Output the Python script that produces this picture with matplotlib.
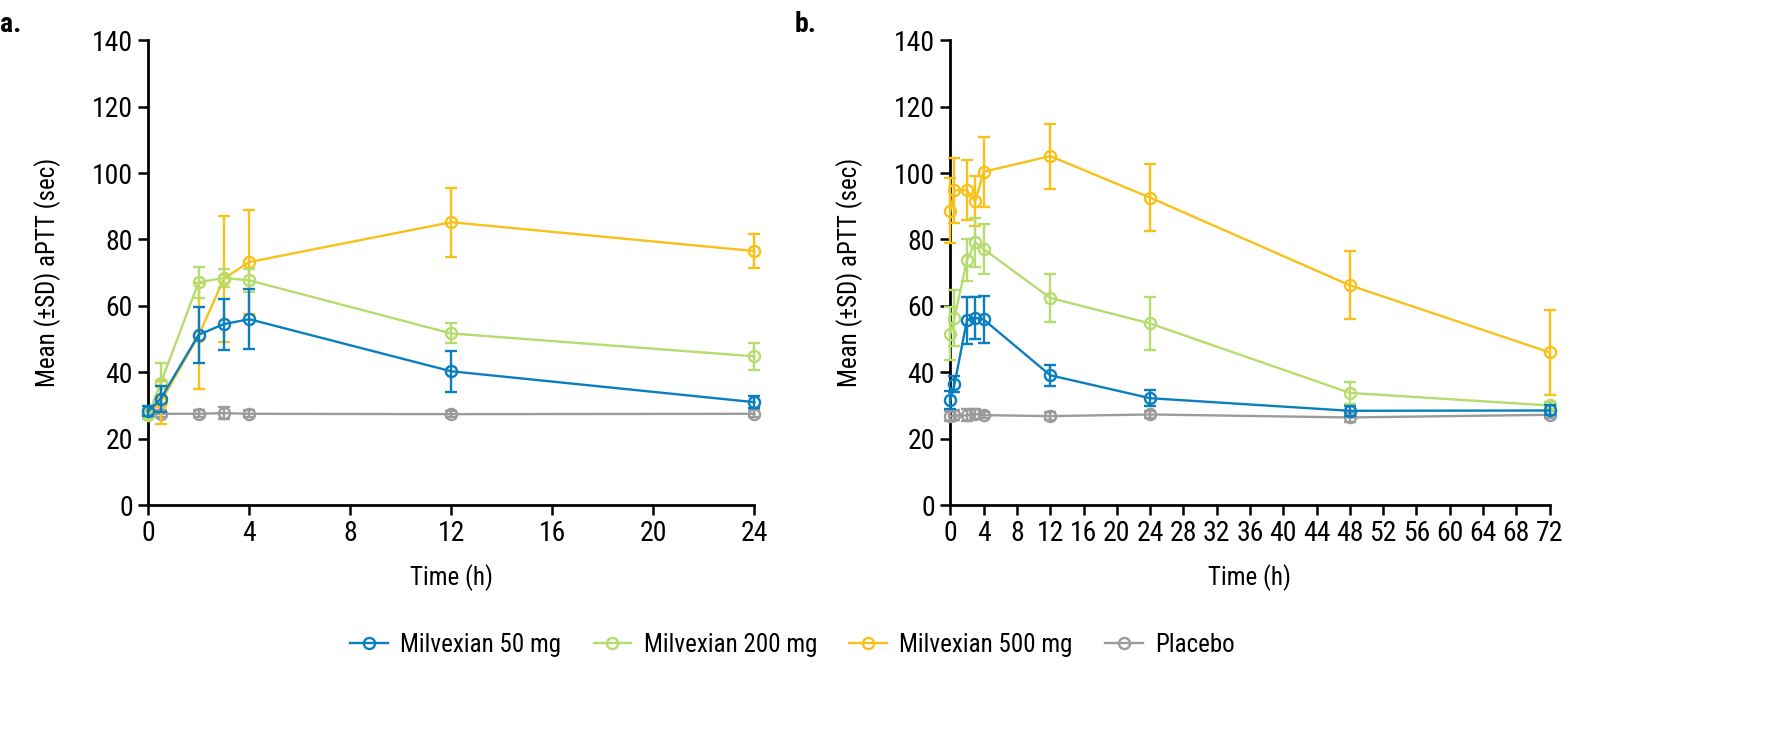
import numpy as np
import matplotlib.pyplot as plt

plt.rcParams['font.family'] = ['Roboto Condensed', 'Archivo Narrow', 'PT Sans Narrow',
                               'Liberation Sans Narrow', 'DejaVu Sans']

# panel a: single dose (0-24 h)
times_a = [0, 0.5, 2, 3, 4, 12, 24]
mean_a_50 = [28.2, 32.0, 51.3, 54.5, 56.0, 40.3, 31.0]
sd_a_50 = [1.5, 4.0, 8.5, 7.7, 9.0, 6.1, 1.8]
mean_a_200 = [27.0, 36.7, 67.1, 68.4, 67.7, 51.7, 44.8]
sd_a_200 = [1.0, 6.0, 4.7, 2.8, 3.5, 3.0, 4.0]
mean_a_500 = [27.5, 31.0, 51.0, 68.2, 73.2, 85.2, 76.5]
sd_a_500 = [1.0, 6.5, 16.0, 19.0, 15.7, 10.4, 5.0]
mean_a_pbo = [27.5, 27.5, 27.5, 27.7, 27.5, 27.4, 27.5]
sd_a_pbo = [1.0, 1.0, 1.0, 1.8, 1.0, 1.0, 1.0]

# panel b: 0-72 h
times_b = [0, 0.5, 2, 3, 4, 12, 24, 48, 72]
mean_b_50 = [31.7, 36.4, 55.7, 56.4, 55.9, 39.1, 32.2, 28.4, 28.5]
sd_b_50 = [2.8, 2.4, 7.1, 6.4, 7.0, 3.2, 2.5, 1.5, 1.5]
mean_b_200 = [51.6, 56.4, 73.8, 79.1, 77.1, 62.4, 54.7, 33.8, 30.0]
sd_b_200 = [8.0, 8.4, 6.2, 7.5, 7.6, 7.3, 8.1, 3.4, 1.0]
mean_b_500 = [88.6, 94.8, 94.8, 91.5, 100.4, 105.1, 92.6, 66.2, 46.0]
sd_b_500 = [9.8, 9.7, 9.0, 7.5, 10.5, 9.8, 10.0, 10.3, 12.8]
mean_b_pbo = [26.7, 27.0, 27.0, 27.5, 27.1, 26.8, 27.3, 26.4, 27.2]
sd_b_pbo = [1.5, 1.5, 1.8, 1.5, 1.0, 1.3, 1.0, 1.3, 1.0]

labels = ['Milvexian 50 mg', 'Milvexian 200 mg', 'Milvexian 500 mg', 'Placebo']
colors = ['#0a7fc0', '#b5dc6e', '#f8c11a', '#9b9b9b']

fig = plt.figure(figsize=(17.73, 7.45), dpi=100)
ax_a = fig.add_axes([0.0835, 0.322, 0.342, 0.624])
ax_b = fig.add_axes([0.536, 0.322, 0.338, 0.624])

panels = [
    (ax_a, times_a, [mean_a_50, mean_a_200, mean_a_500, mean_a_pbo],
     [sd_a_50, sd_a_200, sd_a_500, sd_a_pbo], 24, 4),
    (ax_b, times_b, [mean_b_50, mean_b_200, mean_b_500, mean_b_pbo],
     [sd_b_50, sd_b_200, sd_b_500, sd_b_pbo], 72, 4),
]

for ax, t, means, sds, xmax, step in panels:
    # placebo first, then 500, 200, 50 on top
    for i in [3, 2, 1, 0]:
        ax.errorbar(t, means[i], yerr=sds[i], color=colors[i], lw=1.7,
                    marker='o', ms=8, mfc='none', mew=1.7,
                    capsize=4, capthick=1.7, elinewidth=1.7,
                    clip_on=False, zorder=3 + (3 - i))
    ax.set_xlim(0, xmax)
    ax.set_ylim(0, 140)
    ax.set_xticks(np.arange(0, xmax + 1, step))
    ax.set_yticks(np.arange(0, 141, 20))
    ax.spines['top'].set_visible(False)
    ax.spines['right'].set_visible(False)
    ax.spines['left'].set_linewidth(2)
    ax.spines['bottom'].set_linewidth(2)
    ax.tick_params(axis='both', direction='out', length=7, width=1.8,
                   labelsize=20, pad=4)
    ax.set_xlabel('Time (h)', fontsize=18, labelpad=12)
    ax.set_ylabel('Mean (±SD) aPTT (sec)', fontsize=18, labelpad=22)

fig.text(0.0, 0.985, 'a.', fontsize=20, fontweight='bold', va='top')
fig.text(0.448, 0.985, 'b.', fontsize=20, fontweight='bold', va='top')

# legend entries: line with open marker, no error bars
handles = [plt.Line2D([], [], color=c, lw=1.7, marker='o', ms=8, mfc='none', mew=1.7)
           for c in colors]
fig.legend(handles, labels, loc='center', bbox_to_anchor=(0.447, 0.134),
           ncol=4, frameon=False, fontsize=18, handlelength=1.5,
           columnspacing=1.3, handletextpad=0.5)

fig.savefig('out.png', dpi=100)
